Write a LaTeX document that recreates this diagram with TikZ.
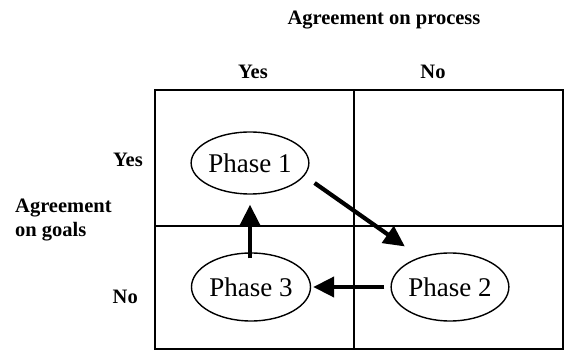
\documentclass[tikz,border=0pt]{standalone}
\usepackage{fontspec}
\setmainfont{Liberation Serif}
\usetikzlibrary{shapes.geometric,arrows.meta,calc}
\begin{document}
\begin{tikzpicture}[x=1pt,y=1pt,
  grid/.style={line width=1.8pt},
  phase/.style={draw,ellipse,line width=1.4pt,inner sep=0pt,font=\fontsize{27}{30}\selectfont},
  lbl/.style={font=\bfseries\fontsize{20.5}{24}\selectfont,inner sep=0pt},
  flow/.style={line width=4.2pt,-{Triangle[length=21pt,width=20pt]}}]
\useasboundingbox (0,0) rectangle (566,351);
% grid
\draw[grid] (155,2) rectangle (563,261);
\draw[grid] (354,2) -- (354,261);
\draw[grid] (155,125) -- (563,125);
% labels
\node[lbl] (proc) at (384,331) {Agreement on process};
\node[lbl] (cy) at (253,279) {Yes};
\node[lbl] (cn) at (433,279) {No};
\node[lbl,anchor=east] (ry) at (143,191) {Yes};
\node[lbl,anchor=east] (rn) at (138,54) {No};
\node[lbl,anchor=west,align=left] (goals) at (15,131) {Agreement\\on goals};
% phases
\node[phase,minimum width=115pt,minimum height=62pt] (p1) at (250,188) {Phase 1};
\node[phase,minimum width=116pt,minimum height=68pt] (p2) at (450,64) {Phase 2};
\node[phase,minimum width=119pt,minimum height=68pt] (p3) at (251,64) {Phase 3};
% arrows
\draw[flow] ($(p1.east)+(5,-20)$) -- ($(p2.north west)+(-3,16)$);
\draw[flow,shorten <=6pt,shorten >=2pt] (p2.west) -- (p3.east);
\draw[flow] ($(p3.north)+(-1,-6)$) -- ($(p1.south)+(0,-10)$);
\end{tikzpicture}
\end{document}
